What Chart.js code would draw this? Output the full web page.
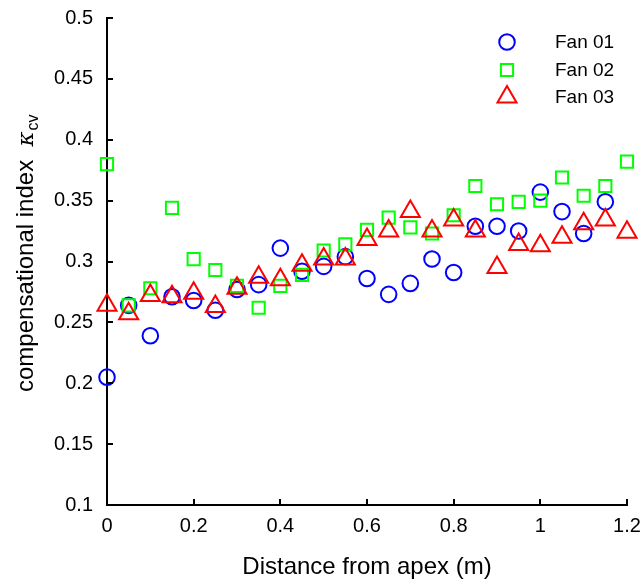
<!DOCTYPE html>
<html>
<head>
<meta charset="utf-8">
<script src="https://cdn.jsdelivr.net/npm/chart.js@4.4.1/dist/chart.umd.min.js"></script>
<style>
  html, body { margin: 0; padding: 0; background: #fff; }
  #wrap { width: 642px; height: 582px; }
</style>
</head>
<body>
<div id="wrap"><canvas id="fanChart" width="642" height="582"></canvas></div>
<script>
// distances from apex (m)
const distance = [0, 0.05, 0.1, 0.15, 0.2, 0.25, 0.3, 0.35, 0.4, 0.45, 0.5, 0.55,
                  0.6, 0.65, 0.7, 0.75, 0.8, 0.85, 0.9, 0.95, 1.0, 1.05, 1.1, 1.15, 1.2];

// compensational index per fan
const fan01 = [0.205, 0.264, 0.239, 0.271, 0.268, 0.260, 0.277, 0.281, 0.311, 0.292, 0.296, 0.304,
               0.286, 0.273, 0.282, 0.302, 0.291, 0.329, 0.329, 0.325, 0.357, 0.341, 0.323, 0.349];
const fan02 = [0.380, 0.264, 0.278, 0.344, 0.302, 0.293, 0.280, 0.262, 0.280, 0.289, 0.309, 0.314,
               0.326, 0.336, 0.328, 0.323, 0.338, 0.362, 0.347, 0.349, 0.350, 0.369, 0.354, 0.362, 0.382];
const fan03 = [0.264, 0.257, 0.272, 0.271, 0.274, 0.263, 0.278, 0.287, 0.285, 0.297, 0.302, 0.302,
               0.318, 0.325, 0.341, 0.325, 0.334, 0.325, 0.295, 0.314, 0.313, 0.320, 0.331, 0.334, 0.324];

const seriesNames = ['Fan 01', 'Fan 02', 'Fan 03'];
const xTicks = [0, 0.2, 0.4, 0.6, 0.8, 1, 1.2];
const yTicks = [0.1, 0.15, 0.2, 0.25, 0.3, 0.35, 0.4, 0.45, 0.5];

const FONT = "'Liberation Sans', Arial, Helvetica, sans-serif";

function toPoints(values) {
    return values.map((v, i) => ({ x: distance[i], y: v }));
}

// inward ticks, y title with subscript, and the legend
const extras = {
    id: 'extras',
    afterDatasetsDraw(chart) {
        const ctx = chart.ctx;
        const xs = chart.scales.x;
        const ys = chart.scales.y;
        const area = chart.chartArea;
        ctx.save();
        ctx.strokeStyle = '#000';
        ctx.lineWidth = 2;
        ctx.beginPath();
        xTicks.forEach(t => {
            const px = Math.round(xs.getPixelForValue(t));
            ctx.moveTo(px, area.bottom);
            ctx.lineTo(px, area.bottom - 6);
        });
        yTicks.forEach(t => {
            const py = Math.round(ys.getPixelForValue(t));
            ctx.moveTo(area.left, py);
            ctx.lineTo(area.left + 6, py);
        });
        ctx.stroke();

        // y axis title
        ctx.fillStyle = '#000';
        ctx.translate(33, 0);
        ctx.rotate(-Math.PI / 2);
        ctx.textBaseline = 'alphabetic';
        ctx.textAlign = 'left';
        let pos = -392;
        ctx.font = '24px ' + FONT;
        const main = 'compensational index  ';
        ctx.fillText(main, pos, 0);
        pos += ctx.measureText(main).width;
        ctx.font = 'italic 23px "DejaVu Serif", serif';
        ctx.fillText('\u03BA', pos, 0);
        pos += ctx.measureText('\u03BA').width + 1;
        ctx.font = '16px ' + FONT;
        ctx.fillText('cv', pos, 5);
        ctx.restore();

        // legend
        ctx.save();
        const rows = [42, 70, 97];
        chart.data.datasets.forEach((ds, i) => {
            ctx.strokeStyle = ds.borderColor;
            ctx.lineWidth = ds.borderWidth;
            ctx.fillStyle = 'rgba(0,0,0,0)';
            Chart.helpers.drawPoint(ctx, {
                pointStyle: ds.pointStyle,
                radius: ds.pointRadius,
                borderWidth: ds.borderWidth
            }, 507, rows[i]);
            ctx.fillStyle = '#000';
            ctx.font = '19px ' + FONT;
            ctx.textBaseline = 'middle';
            ctx.textAlign = 'left';
            ctx.fillText(ds.label, 555, rows[i] + 1);
        });
        ctx.restore();
    }
};

new Chart(document.getElementById('fanChart'), {
    type: 'scatter',
    data: {
        datasets: [
            {
                label: seriesNames[0],
                data: toPoints(fan01),
                pointStyle: 'circle',
                pointRadius: 7.8,
                borderColor: '#0000ff',
                backgroundColor: 'rgba(0,0,0,0)',
                borderWidth: 2,
                clip: false,
                order: 3
            },
            {
                label: seriesNames[1],
                data: toPoints(fan02),
                pointStyle: 'rect',
                pointRadius: 8.6,
                borderColor: '#00ff00',
                backgroundColor: 'rgba(0,0,0,0)',
                borderWidth: 2,
                clip: false,
                order: 2
            },
            {
                label: seriesNames[2],
                data: toPoints(fan03),
                pointStyle: 'triangle',
                pointRadius: 11,
                borderColor: '#ff0000',
                backgroundColor: 'rgba(0,0,0,0)',
                borderWidth: 2,
                clip: false,
                order: 1
            }
        ]
    },
    options: {
        responsive: false,
        animation: false,
        events: [],
        layout: { padding: { top: 18, right: 15, left: 0, bottom: 0 } },
        plugins: {
            legend: { display: false },
            tooltip: { enabled: false }
        },
        elements: { point: { hoverRadius: 0 } },
        scales: {
            x: {
                type: 'linear',
                min: 0,
                max: 1.2,
                afterBuildTicks: s => { s.ticks = xTicks.map(v => ({ value: v })); },
                afterFit: s => { s.height = 77; s.paddingRight = 0; s.paddingLeft = 0; },
                grid: { display: false, drawTicks: false },
                border: { display: true, color: '#000', width: 2 },
                ticks: {
                    color: '#000',
                    padding: 9,
                    font: { family: FONT, size: 20 },
                    callback: v => String(Number(v.toFixed(2)))
                },
                title: {
                    display: true,
                    text: 'Distance from apex (m)',
                    color: '#000',
                    font: { family: FONT, size: 24 },
                    padding: { top: 10, bottom: 0 }
                }
            },
            y: {
                type: 'linear',
                min: 0.1,
                max: 0.5,
                afterBuildTicks: s => { s.ticks = yTicks.map(v => ({ value: v })); },
                afterFit: s => { s.width = 107; s.paddingTop = 0; s.paddingBottom = 0; },
                grid: { display: false, drawTicks: false },
                border: { display: true, color: '#000', width: 2 },
                ticks: {
                    color: '#000',
                    padding: 14,
                    font: { family: FONT, size: 20 },
                    callback: v => String(Number(v.toFixed(2)))
                }
            }
        }
    },
    plugins: [extras]
});
</script>
</body>
</html>
